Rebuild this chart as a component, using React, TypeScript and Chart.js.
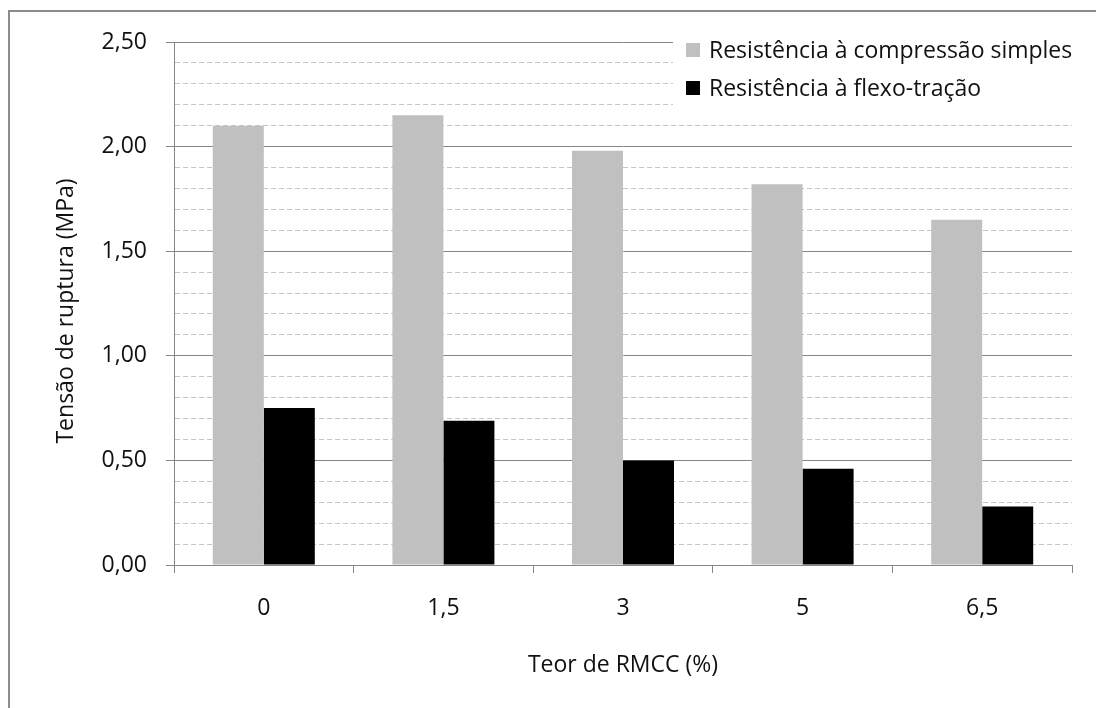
import React, { useEffect, useRef } from "react";
import { Chart, registerables } from "chart.js";

Chart.register(...registerables);

const categories = ["0", "1,5", "3", "5", "6,5"];
const compressionValues = [2.1, 2.15, 1.98, 1.82, 1.65];
const flexuralValues = [0.75, 0.69, 0.5, 0.46, 0.28];
const seriesLabels = ["Resistência à compressão simples", "Resistência à flexo-tração"];
const seriesColors = ["#c0c0c0", "#000000"];
const yTitle = "Tensão de ruptura (MPa)";
const xTitle = "Teor de RMCC (%)";

const FONT_FAMILY = "'Open Sans', sans-serif";
const FONT_SIZE = 23;
const TEXT_COLOR = "#111111";
const MAJOR_GRID = "#868686";
const MINOR_GRID = "#c4c4c4";

const isMajor = (v: number) => Math.round(v * 10) % 5 === 0;

// Legend drawn inside the plot, top right, on a white panel
const insetLegend = {
  id: "insetLegend",
  afterDatasetsDraw(chart: any) {
    const { ctx } = chart;
    ctx.save();
    ctx.fillStyle = "#ffffff";
    ctx.fillRect(673, 28, 420, 84);
    ctx.font = `${FONT_SIZE}px ${FONT_FAMILY}`;
    ctx.textBaseline = "middle";
    ctx.textAlign = "left";
    chart.data.datasets.forEach((ds: any, i: number) => {
      const cy = 50 + i * 38;
      ctx.fillStyle = ds.backgroundColor;
      ctx.fillRect(686, cy - 7, 14, 14);
      ctx.fillStyle = TEXT_COLOR;
      ctx.fillText(ds.label, 709, cy + 1);
    });
    ctx.restore();
  },
};

// Vertical value-axis title, left of the tick labels
const valueAxisTitle = {
  id: "valueAxisTitle",
  afterDraw(chart: any) {
    const { ctx } = chart;
    ctx.save();
    ctx.translate(66, 311);
    ctx.rotate(-Math.PI / 2);
    ctx.font = `${FONT_SIZE}px ${FONT_FAMILY}`;
    ctx.fillStyle = TEXT_COLOR;
    ctx.textAlign = "center";
    ctx.textBaseline = "middle";
    ctx.fillText(yTitle, 0, 0);
    ctx.restore();
  },
};

export default function App() {
  const canvasRef = useRef<HTMLCanvasElement | null>(null);

  useEffect(() => {
    if (!canvasRef.current) return;
    const font = { family: FONT_FAMILY, size: FONT_SIZE };
    const chart = new Chart(canvasRef.current, {
      type: "bar",
      data: {
        labels: categories,
        datasets: [
          {
            label: seriesLabels[0],
            data: compressionValues,
            backgroundColor: seriesColors[0],
            borderWidth: 0,
            categoryPercentage: 0.568,
            barPercentage: 1,
          },
          {
            label: seriesLabels[1],
            data: flexuralValues,
            backgroundColor: seriesColors[1],
            borderWidth: 0,
            categoryPercentage: 0.568,
            barPercentage: 1,
          },
        ],
      },
      plugins: [insetLegend, valueAxisTitle],
      options: {
        responsive: false,
        animation: false,
        devicePixelRatio: 1,
        layout: { padding: { top: 42, right: 24, left: 0, bottom: 0 } },
        plugins: {
          legend: { display: false },
          tooltip: { enabled: false },
          title: { display: false },
        },
        scales: {
          x: {
            offset: true,
            afterFit: (scale: any) => {
              scale.height = 708 - 565;
            },
            grid: {
              offset: true,
              drawOnChartArea: false,
              drawTicks: true,
              tickLength: 8,
              color: MAJOR_GRID,
            },
            border: { display: true, color: MAJOR_GRID, width: 1 },
            ticks: { color: TEXT_COLOR, font, padding: 22, maxRotation: 0 },
            title: {
              display: true,
              text: xTitle,
              color: TEXT_COLOR,
              font,
              padding: { top: 0, bottom: 29 },
            },
          },
          y: {
            min: 0,
            max: 2.5,
            afterFit: (scale: any) => {
              scale.width = 174;
            },
            ticks: {
              stepSize: 0.1,
              autoSkip: false,
              color: TEXT_COLOR,
              font,
              padding: 19,
              callback: (v: any) => (isMajor(Number(v)) ? Number(v).toFixed(2).replace(".", ",") : ""),
            },
            grid: {
              drawTicks: true,
              tickLength: 8,
              lineWidth: 1,
              color: (c: any) => (c.tick && !isMajor(c.tick.value) ? MINOR_GRID : MAJOR_GRID),
              tickColor: (c: any) => (c.tick && !isMajor(c.tick.value) ? "rgba(0,0,0,0)" : MAJOR_GRID),
            },
            border: {
              display: true,
              color: MAJOR_GRID,
              width: 1,
              dash: (c: any) => (c.tick && !isMajor(c.tick.value) ? [5, 3] : []),
            },
          },
        },
      },
    } as any);
    return () => chart.destroy();
  }, []);

  return (
    <div style={{ position: "fixed", left: 0, top: 0, width: 1096, height: 708, background: "#ffffff", overflow: "hidden" }}>
      <div
        style={{
          position: "absolute",
          left: 8,
          top: 10,
          width: 1200,
          height: 800,
          border: "2px solid #8c8c8c",
          boxSizing: "border-box",
        }}
      />
      <canvas
        ref={canvasRef}
        width={1096}
        height={708}
        style={{ position: "absolute", left: 0, top: 0, width: 1096, height: 708 }}
      />
    </div>
  );
}
